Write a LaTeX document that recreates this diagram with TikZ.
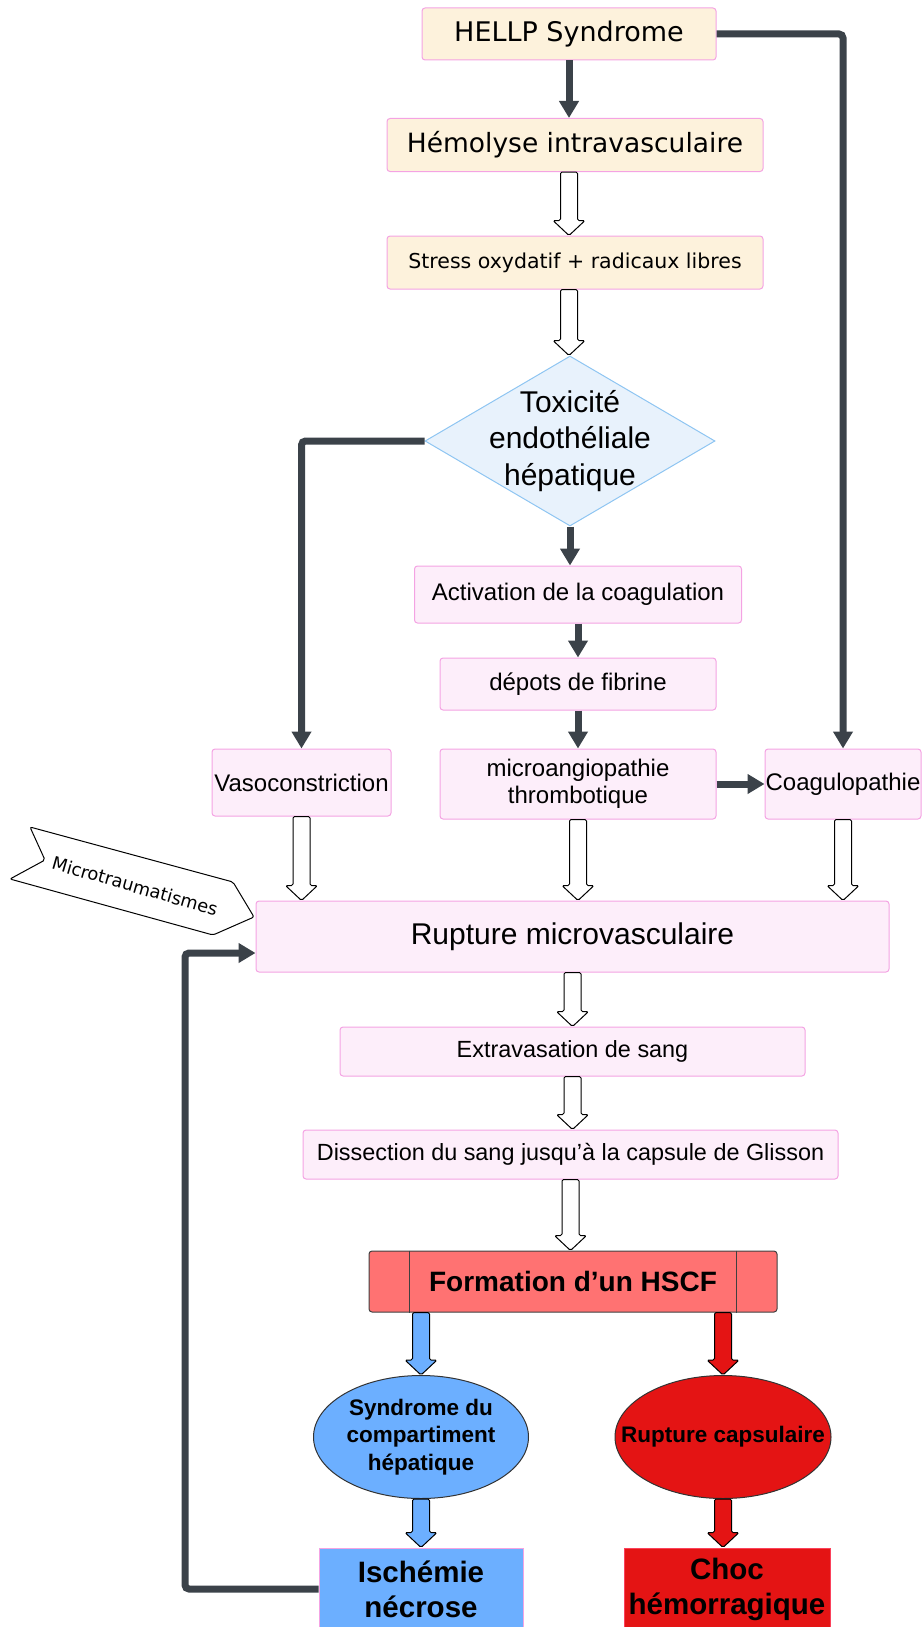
\documentclass[tikz,border=0pt]{standalone}
\usepackage{fontspec}
\setmainfont{Liberation Sans}
\newfontfamily\widefont{DejaVu Sans}
\usetikzlibrary{shapes.geometric,arrows.meta,calc}

\definecolor{cream}{HTML}{FDF2DC}
\definecolor{pinkline}{HTML}{F4A3E3}
\definecolor{pinkfill}{HTML}{FDEEFA}
\definecolor{skyfill}{HTML}{E8F2FC}
\definecolor{skyline}{HTML}{8EC5F2}
\definecolor{darkline}{HTML}{3B4249}
\definecolor{salmon}{HTML}{FF7272}
\definecolor{bluefill}{HTML}{6CAFFF}
\definecolor{redfill}{HTML}{E41414}

\newcommand{\fsz}[2]{\fontsize{#1}{#2}\selectfont}
% fat open arrow going down from #2 to #3
\newcommand{\hollow}[3][white]{%
  \draw[fill=#1, line width=1pt, rounded corners=1.5pt, line join=round]
    let \p1=(#2), \p2=(#3) in
    (\x1-8.5,\y1) -- (\x1+8.5,\y1) -- (\x1+8.5,\y2+15) -- (\x1+16,\y2+15)
    -- (\x1,\y2) -- (\x1-16,\y2+15) -- (\x1-8.5,\y2+15) -- cycle;}

\tikzset{
  topbox/.style={draw=pinkline, fill=cream, line width=1pt, rounded corners=3pt, inner sep=0pt},
  midbox/.style={draw=pinkline, fill=pinkfill, line width=1pt, rounded corners=3pt, inner sep=0pt, align=center},
  flow/.style={draw=darkline, line width=7pt, -{Triangle[length=17pt,width=19pt]}, rounded corners=4pt},
}

\begin{document}
\begin{tikzpicture}[x=1pt,y=-1pt]
\useasboundingbox (0,0) rectangle (922,1627);

\node[topbox, minimum width=294, minimum height=52, font=\widefont\fsz{27}{32}] (hellp) at (569,34) {HELLP Syndrome};
\node[topbox, minimum width=376, minimum height=53, font=\widefont\fsz{26.5}{32}] (hemo) at (575,145) {Hémolyse intravasculaire};
\node[topbox, minimum width=376, minimum height=53, font=\widefont\fsz{20.5}{25}] (stress) at (575,262.5) {Stress oxydatif + radicaux libres};

\node[diamond, draw=skyline, fill=skyfill, line width=1pt, inner sep=0pt,
      minimum width=290, minimum height=170,
      label={[align=center, font=\fsz{30}{36.5}]center:Toxicité\\endothéliale\\hépatique}] (tox) at (570,441) {};

\node[midbox, minimum width=327, minimum height=57, font=\fsz{24}{27}] (act) at (578,594.5) {Activation de la coagulation};
\node[midbox, minimum width=276, minimum height=52, font=\fsz{24}{27}] (depots) at (578,684) {dépots de fibrine};
\node[midbox, minimum width=276, minimum height=70, font=\fsz{24}{27}] (micro) at (578,784) {microangiopathie\\thrombotique};
\node[midbox, minimum width=179, minimum height=67, font=\fsz{24}{27}] (vaso) at (301.5,782.5) {Vasoconstriction};
\node[midbox, minimum width=156, minimum height=70, font=\fsz{24}{27}] (coag) at (843,784) {Coagulopathie};

\node[midbox, minimum width=633, minimum height=71, font=\fsz{30}{36}] (rupt) at (572.5,936.5) {Rupture microvasculaire};
\node[midbox, minimum width=465, minimum height=49, font=\fsz{23.4}{27}] (extra) at (572.5,1051.5) {Extravasation de sang};
\node[midbox, minimum width=535, minimum height=49, font=\fsz{23.4}{27}] (dissec) at (570.5,1154.5) {Dissection du sang jusqu’à la capsule de Glisson};

\node[draw=black!75, fill=salmon, line width=1pt, rounded corners=3pt, inner sep=0pt,
      minimum width=408, minimum height=61, font=\bfseries\fsz{28}{32}] (hscf) at (573,1281.5) {Formation d’un HSCF};
\draw[black!75, line width=1pt] ([xshift=41pt]hscf.north west) -- ([xshift=41pt]hscf.south west);
\draw[black!75, line width=1pt] ([xshift=-41pt]hscf.north east) -- ([xshift=-41pt]hscf.south east);

\node[ellipse, draw=black!80, fill=bluefill, line width=1pt, inner sep=0pt,
      minimum width=215, minimum height=123,
      label={[align=center, font=\bfseries\fsz{22.5}{27.5}]center:Syndrome du\\compartiment\\hépatique}] (syndr) at (421,1437) {};
\node[ellipse, draw=black!80, fill=redfill, line width=1pt, inner sep=0pt,
      minimum width=216, minimum height=123,
      label={[font=\bfseries\fsz{22.5}{27.5}]center:Rupture capsulaire}] (ruptcap) at (723,1437) {};

\node[draw=pinkline, fill=bluefill, line width=1pt, inner sep=0pt, align=center,
      minimum width=204, minimum height=82, font=\bfseries\fsz{29.5}{35}] (isch) at (421,1589) {Ischémie\\nécrose};
\node[draw=red!60!pinkline, fill=redfill, line width=1pt, inner sep=0pt, align=center,
      minimum width=206, minimum height=82, font=\bfseries\fsz{29.5}{35}] (choc) at (727,1589) {Choc\\hémorragique};

% side tag
\draw[fill=white, line width=1pt, rounded corners=2pt] (30,827) -- (233,882) -- (254,917) -- (213,935) -- (10,879) -- (45,860) -- cycle;
\node[rotate=-16, font=\widefont\fsz{17.8}{20}] (mtr) at (135,886) {Microtraumatismes};

% dark connectors
\draw[flow] (hellp.south) -- (hellp.south |- hemo.north);
\draw[flow] (tox.south) -- (tox.south |- act.north);
\draw[flow] (act.south) -- (depots.north);
\draw[flow] (depots.south) -- (micro.north);
\draw[flow] (tox.west) -| (vaso.north);
\draw[flow] (hellp.east) -| (coag.north);
\draw[flow] (micro.east) -- (coag.west);
\coordinate (back) at (185,953);
\draw[flow] (isch.west) -| (back) -- (back -| rupt.west);

% open arrows
\hollow{hemo.south -| hellp.south}{stress.north -| hellp.south}
\hollow{stress.south -| hellp.south}{tox.north}
\hollow{vaso.south}{vaso.south |- rupt.north}
\hollow{micro.south}{micro.south |- rupt.north}
\hollow{coag.south}{coag.south |- rupt.north}
\hollow{rupt.south}{extra.north}
\hollow{extra.south}{extra.south |- dissec.north}
\hollow{dissec.south}{dissec.south |- hscf.north}

% coloured arrows
\hollow[bluefill]{hscf.south -| syndr.north}{syndr.north}
\hollow[redfill]{hscf.south -| ruptcap.north}{ruptcap.north}
\hollow[bluefill]{syndr.south}{syndr.south |- isch.north}
\hollow[redfill]{ruptcap.south}{ruptcap.south |- choc.north}
\end{tikzpicture}
\end{document}
